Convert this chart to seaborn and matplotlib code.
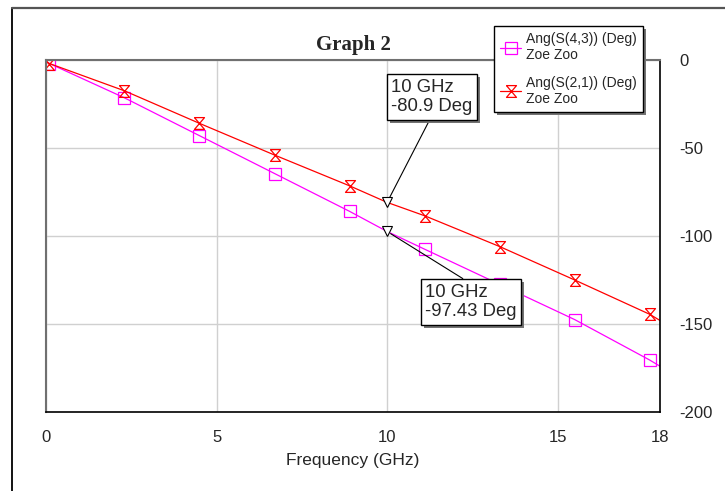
import numpy as np
import pandas as pd
import matplotlib
matplotlib.use('Agg')
import matplotlib.pyplot as plt
from matplotlib import patheffects
from matplotlib.lines import Line2D
import seaborn as sns

# values
freq = [0, 0.1, 2.3, 4.5, 6.7, 8.9, 10, 11.1, 13.3, 15.5, 17.7, 18]
s43 = [-1, -2, -21.5, -43, -64.5, -86, -97.43, -107.5, -127.5, -147.5, -170.5, -174]
s21 = [-1, -2, -17.5, -36, -54, -71.5, -80.9, -88.5, -106, -125, -144.5, -148]
mark_idx = [1, 2, 3, 4, 5, 7, 8, 9, 10]
xticks = [0, 5, 10, 15, 18]
yticks = [0, -50, -100, -150, -200]
lab43 = 'Ang(S(4,3)) (Deg)\nZoe Zoo'
lab21 = 'Ang(S(2,1)) (Deg)\nZoe Zoo'
marker_f = 10
ann43 = '10 GHz\n-97.43 Deg'
ann21 = '10 GHz\n-80.9 Deg'

sns.set_style('white')
plt.rcParams['font.family'] = ['Liberation Sans', 'DejaVu Sans']
plt.rcParams['axes.unicode_minus'] = False

df = pd.DataFrame({'freq': freq, 's43': s43, 's21': s21})

fig = plt.figure(figsize=(7.25, 4.91), dpi=100)
ax = fig.add_axes([46/725, 79/491, 614/725, 352/491])

hourglass = [(-0.85, 1), (0.85, 1), (-0.85, -1), (0.85, -1), (-0.85, 1)]

sns.lineplot(data=df, x='freq', y='s43', ax=ax, color='#ff00ff', lw=0.9,
             marker='s', markersize=8.5, mfc='none', mec='#ff00ff', mew=0.9,
             markevery=mark_idx, label=lab43)
sns.lineplot(data=df, x='freq', y='s21', ax=ax, color='#ff0000', lw=0.9,
             marker=hourglass, markersize=8.5, mfc='none', mec='#ff0000', mew=0.9,
             markevery=mark_idx, label=lab21)

ax.set_xlim(0, 18)
ax.set_ylim(-200, 0)
ax.set_xticks(xticks)
ax.set_yticks(yticks)
ax.yaxis.tick_right()
ax.tick_params(axis='x', length=0, pad=13, labelsize=12)
ax.tick_params(axis='y', length=0, pad=14, labelsize=12)
ax.grid(True, color='#d0d0d0', lw=1)
ax.set_xlabel('Frequency (GHz)', fontsize=12.5, labelpad=6)
ax.set_ylabel('')
ax.set_title('Graph 2', fontsize=15, fontweight='bold', family='Liberation Serif', pad=7)

for side in ['left', 'top']:
    ax.spines[side].set_color('#707070')
    ax.spines[side].set_linewidth(1.5)
for side in ['right', 'bottom']:
    ax.spines[side].set_color('black')
    ax.spines[side].set_linewidth(1.2)

# marker readouts
for val, txt, pos, rp in [(s21[freq.index(marker_f)], ann21, (432, 394), (0.5, 0)),
                          (s43[freq.index(marker_f)], ann43, (471, 189), (0.5, 1))]:
    ann = ax.annotate(txt, xy=(marker_f, val), xytext=pos, textcoords='figure pixels',
                      ha='center', va='center', multialignment='left', fontsize=13.3,
                      bbox=dict(boxstyle='square,pad=0.25', fc='white', ec='black', lw=1),
                      arrowprops=dict(arrowstyle='-', color='black', lw=0.8, relpos=rp,
                                      shrinkA=0, shrinkB=3),
                      zorder=5)
    ann.get_bbox_patch().set_path_effects([
        patheffects.withSimplePatchShadow(offset=(2.2, -2.2), shadow_rgbFace='0.45', alpha=1)])
    ax.plot([marker_f], [val], marker='v', ms=7, mfc='white', mec='black', mew=0.8,
            ls='none', zorder=6)

leg = ax.legend(loc='upper left', bbox_to_anchor=(494/725, 1 - 26/491),
                bbox_transform=fig.transFigure, fontsize=10, frameon=True, fancybox=False,
                edgecolor='black', framealpha=1, borderpad=0.45, labelspacing=0.95,
                handletextpad=0.35, handlelength=1.5, borderaxespad=0, numpoints=1)
leg.get_frame().set_linewidth(1)
leg.get_frame().set_path_effects([
    patheffects.withSimplePatchShadow(offset=(2.2, -2.2), shadow_rgbFace='0.45', alpha=1)])
leg.set_zorder(10)

# outer frame lines of the window
fig.add_artist(Line2D([12/725, 12/725], [0, 1 - 8/491], transform=fig.transFigure,
                      color='black', lw=1.3))
fig.add_artist(Line2D([12/725, 1], [1 - 8/491, 1 - 8/491], transform=fig.transFigure,
                      color='#555555', lw=1.6))

fig.savefig('out.png', dpi=100)
